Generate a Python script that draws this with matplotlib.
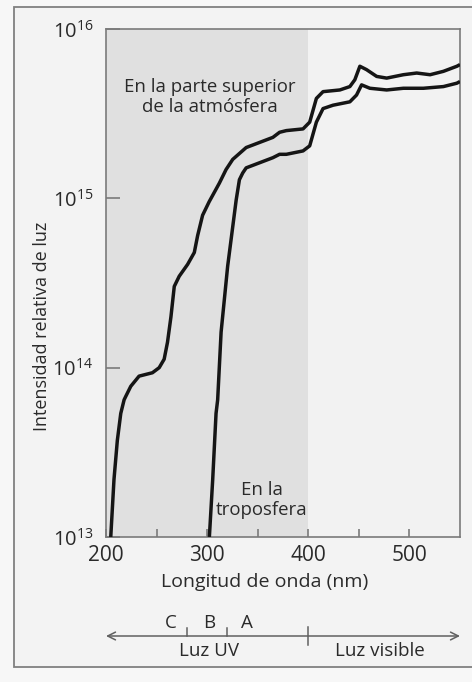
import matplotlib
matplotlib.use("Agg")
import matplotlib.pyplot as plt
from matplotlib.patches import Rectangle
from matplotlib.transforms import blended_transform_factory
import numpy as np

plt.rcParams['font.family'] = ['Open Sans', 'DejaVu Sans']
plt.rcParams['mathtext.fontset'] = 'custom'
plt.rcParams['mathtext.rm'] = 'Open Sans'

# --- data ---
top_wl = [204.7, 207.9, 211.2, 214.6, 217.9, 219.5, 224.5, 232.7, 245.9, 252.6, 257.5, 260.8,
          264.2, 267.5, 272.4, 280.7, 287.3, 290.6, 295.5, 302.0, 312.1, 318.7, 325.3, 338.6,
          351.8, 365.0, 371.6, 378.3, 394.8, 401.4, 408.0, 414.6, 431.2, 441.1, 446.0, 451.0,
          457.6, 467.6, 477.5, 494.0, 507.2, 520.4, 533.6, 546.9, 550.0]
top_log = [13.00, 13.34, 13.57, 13.73, 13.81, 13.83, 13.89, 13.95, 13.97, 14.00, 14.05, 14.15,
           14.30, 14.48, 14.54, 14.61, 14.68, 14.78, 14.90, 14.98, 15.09, 15.17, 15.23, 15.30,
           15.33, 15.36, 15.39, 15.40, 15.41, 15.45, 15.59, 15.63, 15.64, 15.66, 15.70, 15.78,
           15.76, 15.72, 15.71, 15.73, 15.74, 15.73, 15.75, 15.78, 15.79]
tropo_wl = [302.2, 305.5, 308.8, 310.4, 313.8, 320.3, 328.7, 331.9, 335.2, 338.6, 351.8, 365.0,
            371.6, 378.3, 394.8, 401.4, 408.0, 414.6, 424.5, 441.1, 447.7, 452.7, 460.9, 477.5,
            494.0, 513.8, 533.6, 546.9, 550.0]
tropo_log = [13.00, 13.34, 13.73, 13.81, 14.21, 14.60, 14.99, 15.11, 15.15, 15.18, 15.21, 15.24,
             15.26, 15.26, 15.28, 15.31, 15.45, 15.53, 15.55, 15.57, 15.61, 15.67, 15.65, 15.64,
             15.65, 15.65, 15.66, 15.68, 15.69]
x_ticks = [200, 300, 400, 500]
x_minor = [250, 350, 450]
y_ticks = [1e13, 1e14, 1e15, 1e16]
y_ticklabels = [r'$\mathregular{10^{13}}$', r'$\mathregular{10^{14}}$',
                r'$\mathregular{10^{15}}$', r'$\mathregular{10^{16}}$']
uv_bounds = [280, 320]
band_labels = ['C', 'B', 'A']
band_pos = [264, 302, 339]

TXT = '#2a2a2a'
fig = plt.figure(figsize=(4.72, 6.82), dpi=100)
fig.patch.set_facecolor('#f7f7f7')

# outer frame
frame = Rectangle((14/472, 1-667/682), 1.0, (667-7)/682, transform=fig.transFigure,
                  facecolor='#f3f3f3', edgecolor='#808080', lw=1.3, zorder=-5)
fig.patches.append(frame)

ax = fig.add_axes([106/472, 1-537/682, (460-106)/472, (537-29)/682], zorder=2)
ax.set_facecolor('#f2f2f2')
ax.set_yscale('log')
ax.set_xlim(200, 550)
ax.set_ylim(1e13, 1e16)

ax.axvspan(200, 400, color='#e0e0e0', zorder=0, lw=0)

for wl, lg in [(top_wl, top_log), (tropo_wl, tropo_log)]:
    ax.plot(wl, 10**np.array(lg), color='#151515', lw=2.5, solid_joinstyle='round',
            solid_capstyle='butt', zorder=3)

for s in ax.spines.values():
    s.set_color('#7a7a7a')
    s.set_linewidth(1.2)

ax.set_xticks(x_ticks)
ax.set_xticks(x_minor, minor=True)
ax.set_xticklabels([str(v) for v in x_ticks])
ax.set_yticks(y_ticks)
ax.set_yticklabels(y_ticklabels)
ax.yaxis.set_minor_locator(matplotlib.ticker.NullLocator())
ax.tick_params(axis='x', which='both', direction='in', length=6, width=1.2, color='#7a7a7a',
               labelsize=15, pad=6, labelcolor=TXT)
ax.tick_params(axis='y', direction='in', length=10, width=1.2, color='#7a7a7a',
               labelsize=14.5, pad=9, labelcolor=TXT)

fig.text(264.5/472, 1 - 582/682, 'Longitud de onda (nm)', fontsize=14, color=TXT,
         ha='center', va='center')
fig.text(42.5/472, 1 - 326/682, 'Intensidad relativa de luz', fontsize=13, color=TXT,
         ha='center', va='center', rotation=90)

ax.text(303, 10**15.60, 'En la parte superior\nde la atmósfera', ha='center', va='center',
        fontsize=13.4, color=TXT, linespacing=1.15)
ax.text(354, 10**13.22, 'En la\ntroposfera', ha='center', va='center',
        fontsize=13.4, color=TXT, linespacing=1.15)

# bottom spectrum arrow
tr = blended_transform_factory(ax.transData, fig.transFigure)
yarr = 1 - 636/682
ax.annotate('', xy=(550, yarr), xytext=(200, yarr), xycoords=tr, textcoords=tr,
            arrowprops=dict(arrowstyle='<->', color='#606060', lw=1.1,
                            mutation_scale=14, shrinkA=0, shrinkB=0), annotation_clip=False)
for b in uv_bounds:
    ax.plot([b, b], [yarr, yarr + 8/682], transform=tr, color='#606060', lw=1.1, clip_on=False)
ax.plot([400, 400], [yarr - 9/682, yarr + 9/682], transform=tr, color='#606060', lw=1.1, clip_on=False)
for lab, p in zip(band_labels, band_pos):
    ax.text(p, 1 - 623/682, lab, transform=tr, ha='center', va='center', fontsize=13.5, color=TXT)
ax.text(302, 1 - 651/682, 'Luz UV', transform=tr, ha='center', va='center', fontsize=13.5, color=TXT)
ax.text(471, 1 - 651/682, 'Luz visible', transform=tr, ha='center', va='center', fontsize=13.5, color=TXT)

fig.savefig('out.png', dpi=100, facecolor=fig.get_facecolor())
